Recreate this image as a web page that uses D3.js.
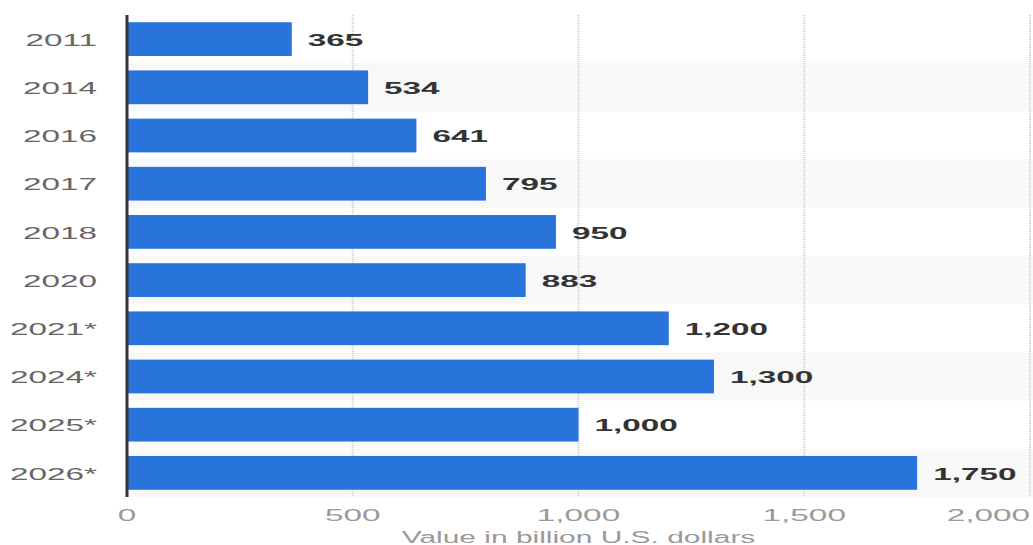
<!DOCTYPE html>
<html>
<head>
<meta charset="utf-8">
<script src="https://cdn.jsdelivr.net/npm/d3@7"></script>
<style>
    body { margin: 0; background: #fff; }
    svg { display: block; }
    text { font-family: "Liberation Sans", Arial, sans-serif; }
    .year { fill: #666; font-size: 16px; }
    .value { fill: #333; font-size: 16px; font-weight: bold; }
    .tick-label { fill: #9a9a9a; font-size: 16px; }
    .axis-title { fill: #999; font-size: 16px; }
</style>
</head>
<body>
<svg></svg>
<script>
const years = ["2011", "2014", "2016", "2017", "2018", "2020", "2021*", "2024*", "2025*", "2026*"]
const values = [365, 534, 641, 795, 950, 883, 1200, 1300, 1000, 1750]
const ticks = [0, 500, 1000, 1500, 2000]
const axisTitle = "Value in billion U.S. dollars"

const data = years.map((y, i) => { return { year: y, value: values[i] } })

const width = 1033
const height = 545
const stretch = 2.08   // the reference text is stretched sideways

const svg = d3.select("svg")
    .attr("width", width)
    .attr("height", height)

const x = d3.scaleLinear()
    .domain([0, 2000])
    .range([127, 1030])

const y = d3.scaleBand()
    .domain(years)
    .range([15, 497])
    .paddingInner(0.3)
    .paddingOuter(0.15)

const step = y.step()

// alternating light rows
svg.append("g")
    .selectAll("rect.stripe")
    .data(data.filter((d, i) => { return i % 2 === 1 }))
    .enter()
    .append("rect")
    .attr("class", "stripe")
    .attr("x", x(0))
    .attr("y", d => { return y(d.year) - step * y.paddingInner() / 2 })
    .attr("width", width - x(0))
    .attr("height", step)
    .style("fill", "#f8f8f8")

// dotted grid
svg.append("g")
    .selectAll("line.grid")
    .data(ticks.slice(1))
    .enter()
    .append("line")
    .attr("class", "grid")
    .attr("x1", d => { return x(d) })
    .attr("x2", d => { return x(d) })
    .attr("y1", 15)
    .attr("y2", 497)
    .style("stroke", "#d0d0d0")
    .style("stroke-width", 2)
    .style("stroke-dasharray", "1,1")

svg.append("g")
    .selectAll("rect.bar")
    .data(data)
    .enter()
    .append("rect")
    .attr("class", "bar")
    .attr("x", x(0))
    .attr("y", d => { return y(d.year) })
    .attr("width", d => { return x(d.value) - x(0) })
    .attr("height", y.bandwidth())
    .style("fill", "#2874db")

// y axis line
svg.append("line")
    .attr("x1", x(0))
    .attr("x2", x(0))
    .attr("y1", 15)
    .attr("y2", 497)
    .style("stroke", "#333")
    .style("stroke-width", 3)

svg.append("g")
    .selectAll("text.year")
    .data(data)
    .enter()
    .append("text")
    .attr("class", "year")
    .attr("text-anchor", "end")
    .attr("dy", "0.36em")
    .attr("transform", d => { return `translate(97, ${y(d.year) + y.bandwidth() / 2 + 1}) scale(${stretch}, 1)` })
    .text(d => { return d.year })

svg.append("g")
    .selectAll("text.value")
    .data(data)
    .enter()
    .append("text")
    .attr("class", "value")
    .attr("dy", "0.36em")
    .attr("transform", d => { return `translate(${x(d.value) + 16}, ${y(d.year) + y.bandwidth() / 2 + 1}) scale(${stretch}, 1)` })
    .text(d => { return d3.format(",")(d.value) })

svg.append("g")
    .selectAll("text.tick-label")
    .data(ticks)
    .enter()
    .append("text")
    .attr("class", "tick-label")
    .attr("text-anchor", (d, i) => { return i === ticks.length - 1 ? "end" : "middle" })
    .attr("dy", "0.36em")
    .attr("transform", d => { return `translate(${x(d)}, 515) scale(${stretch}, 1)` })
    .text(d => { return d3.format(",")(d) })

svg.append("text")
    .attr("class", "axis-title")
    .attr("text-anchor", "middle")
    .attr("dy", "0.36em")
    .attr("transform", `translate(${(x(0) + x(2000)) / 2}, 537) scale(1.87, 1)`)
    .text(axisTitle)
</script>
</body>
</html>
